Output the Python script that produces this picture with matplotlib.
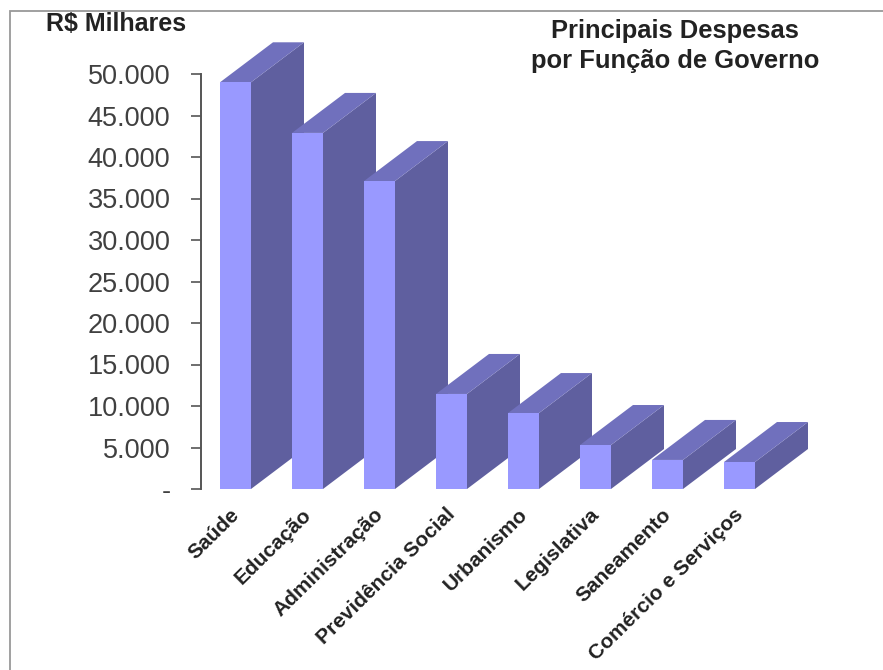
import matplotlib
matplotlib.use("Agg")
import matplotlib.pyplot as plt
from matplotlib.patches import Rectangle
from matplotlib.transforms import ScaledTranslation

categories = ["Saúde", "Educação", "Administração", "Previdência Social",
              "Urbanismo", "Legislativa", "Saneamento", "Comércio e Serviços"]
values = [49000, 42900, 37100, 11450, 9150, 5300, 3500, 3250]
y_ticks = [0, 5000, 10000, 15000, 20000, 25000, 30000, 35000, 40000, 45000, 50000]
y_labels = ["-", "5.000", "10.000", "15.000", "20.000", "25.000", "30.000",
            "35.000", "40.000", "45.000", "50.000"]
unit_label = "R$ Milhares"
title_lines = "Principais Despesas\npor Função de Governo"

W, H = 883, 670
plt.rcParams["font.family"] = ["Liberation Sans", "DejaVu Sans"]
fig = plt.figure(figsize=(W / 100, H / 100), dpi=100, facecolor="white")

# axes box in pixels: x 201..777, y 74..489
ax = fig.add_axes([201 / W, 1 - 489 / H, 576 / W, 415 / H])
ax.set_xlim(0, 8)
ax.set_ylim(0, 50000)
ax.patch.set_visible(False)
for s in ["top", "right", "bottom"]:
    ax.spines[s].set_visible(False)
ax.spines["left"].set_color("#555555")
ax.spines["left"].set_linewidth(1.4)

bar_w = 31 / 72
depth_x = 53 / 72
depth_y = 40 / 415 * 50000
front = "#9999FF"
top = "#7070BD"
side = "#5F5F9F"

for i, v in enumerate(values):
    x0 = i + 19 / 72
    x1 = x0 + bar_w
    z = 3 * i
    ax.fill([x1, x1 + depth_x, x1 + depth_x, x1], [0, depth_y, v + depth_y, v],
            color=side, lw=0, clip_on=False, zorder=3 + z)
    ax.fill([x0, x1, x1 + depth_x, x0 + depth_x], [v, v, v + depth_y, v + depth_y],
            color=top, lw=0, clip_on=False, zorder=4 + z)
    ax.fill([x0, x1, x1, x0], [0, 0, v, v],
            color=front, lw=0, clip_on=False, zorder=5 + z)

ax.set_yticks(y_ticks)
ax.set_yticklabels(y_labels, fontsize=19.5, color="#404040")
ax.tick_params(axis="y", length=7, width=1.2, color="#555555", pad=15)

ax.set_xticks([i + 0.5 for i in range(len(categories))])
ax.set_xticklabels(categories, rotation=44.5, ha="right", rotation_mode="anchor",
                   fontsize=15, fontweight="bold", color="#222222")
ax.tick_params(axis="x", length=0, pad=11.5)
shift = ScaledTranslation(-7 / 100, 0, fig.dpi_scale_trans)
for lab in ax.get_xticklabels():
    lab.set_transform(lab.get_transform() + shift)

fig.add_artist(Rectangle((10 / W, -0.05), 1.05 - 10 / W, 1.05 - 11 / H,
                         transform=fig.transFigure, fill=False,
                         ec="#999999", lw=1.3))
fig.text(116.5 / W, 1 - 24 / H, unit_label, ha="center", va="center",
         fontsize=18, fontweight="bold", color="#222222")
fig.text(675 / W, 1 - 46 / H, title_lines, ha="center", va="center",
         fontsize=18.4, fontweight="bold", color="#222222", linespacing=1.3)

fig.savefig("out.png", dpi=100)
